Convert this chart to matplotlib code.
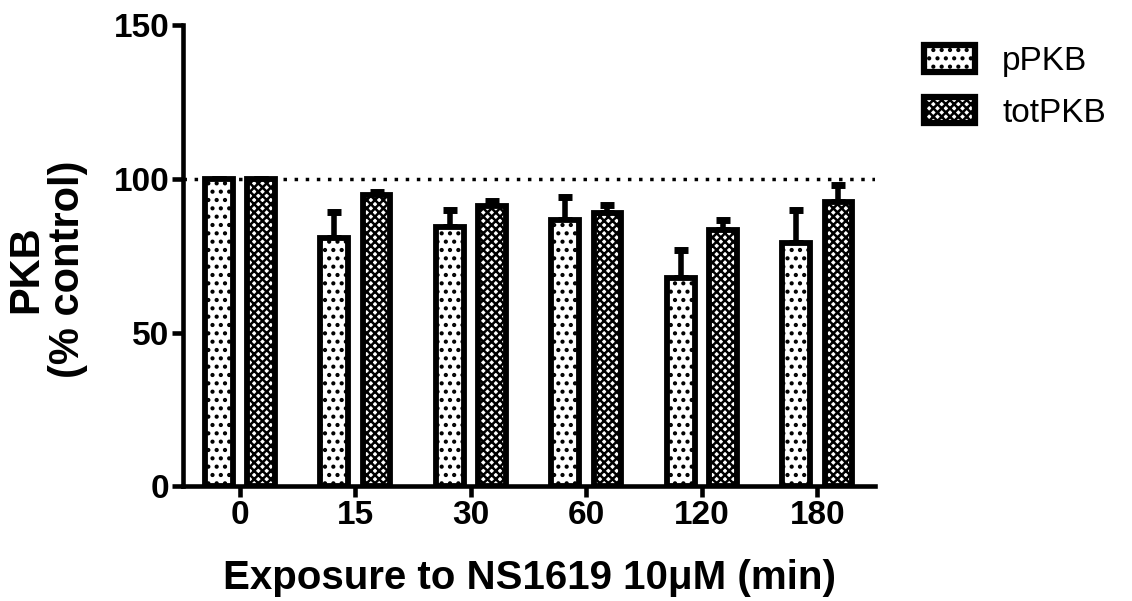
import numpy as np
import matplotlib.pyplot as plt
from matplotlib.patches import Patch

plt.rcParams['font.family'] = ['Liberation Sans', 'DejaVu Sans']
plt.rcParams['hatch.linewidth'] = 1.8

times = ["0", "15", "30", "60", "120", "180"]
ppkb = [100, 80.8, 84.4, 86.6, 67.7, 79.1]
ppkb_err = [0, 8.4, 5.6, 7.4, 9.2, 10.9]
totpkb = [100, 94.8, 91.2, 88.9, 83.4, 92.5]
totpkb_err = [0, 1.0, 1.6, 2.6, 3.2, 5.5]

x = np.arange(len(times))
w = 0.24
off = 0.183

fig = plt.figure(figsize=(11.32, 6.01), dpi=100)
ax = fig.add_axes([0.162, 0.191, 0.611, 0.767])

ax.axhline(100, color='black', linestyle=(0, (1, 2.2)), linewidth=2.5, zorder=1)

ax.bar(x - off, ppkb, w, facecolor='white', edgecolor='black', linewidth=4.2,
       hatch='..', zorder=3)
ax.bar(x + off, totpkb, w, facecolor='white', edgecolor='black', linewidth=4.2,
       hatch='xxxx', zorder=3)
ax.errorbar(x - off, ppkb, yerr=[np.zeros(len(x)), ppkb_err], fmt='none',
            ecolor='black', elinewidth=4, capsize=5, capthick=5, zorder=2)
ax.errorbar(x + off, totpkb, yerr=[np.zeros(len(x)), totpkb_err], fmt='none',
            ecolor='black', elinewidth=4, capsize=5, capthick=5, zorder=2)

ax.set_xlim(-0.49, 5.5)
ax.set_ylim(0, 150)
ax.set_yticks([0, 50, 100, 150])
ax.set_xticks(x)
ax.set_xticklabels(times)
for s in ['top', 'right']:
    ax.spines[s].set_visible(False)
for s in ['left', 'bottom']:
    ax.spines[s].set_linewidth(3.3)
ax.tick_params(axis='both', width=3.3, length=8, labelsize=24, pad=2)
for lab in ax.get_xticklabels() + ax.get_yticklabels():
    lab.set_fontweight('bold')

ax.set_ylabel("PKB\n(% control)", fontsize=30, fontweight='bold', linespacing=1.05)
ax.yaxis.set_label_coords(-0.138, 0.47)
ax.set_xlabel("Exposure to NS1619 10\u03bcM (min)", fontsize=29, fontweight='bold',
              labelpad=20)

handles = [Patch(facecolor='white', edgecolor='black', linewidth=4.5, hatch='..'),
           Patch(facecolor='white', edgecolor='black', linewidth=4.5, hatch='xxxx')]
fig.legend(handles, ["pPKB", "totPKB"], loc='upper left', bbox_to_anchor=(0.816, 0.925),
           frameon=False, fontsize=24, handlelength=1.55, handleheight=0.85,
           handletextpad=0.8, labelspacing=0.6, borderpad=0, borderaxespad=0)

fig.savefig("out.png", dpi=100)
